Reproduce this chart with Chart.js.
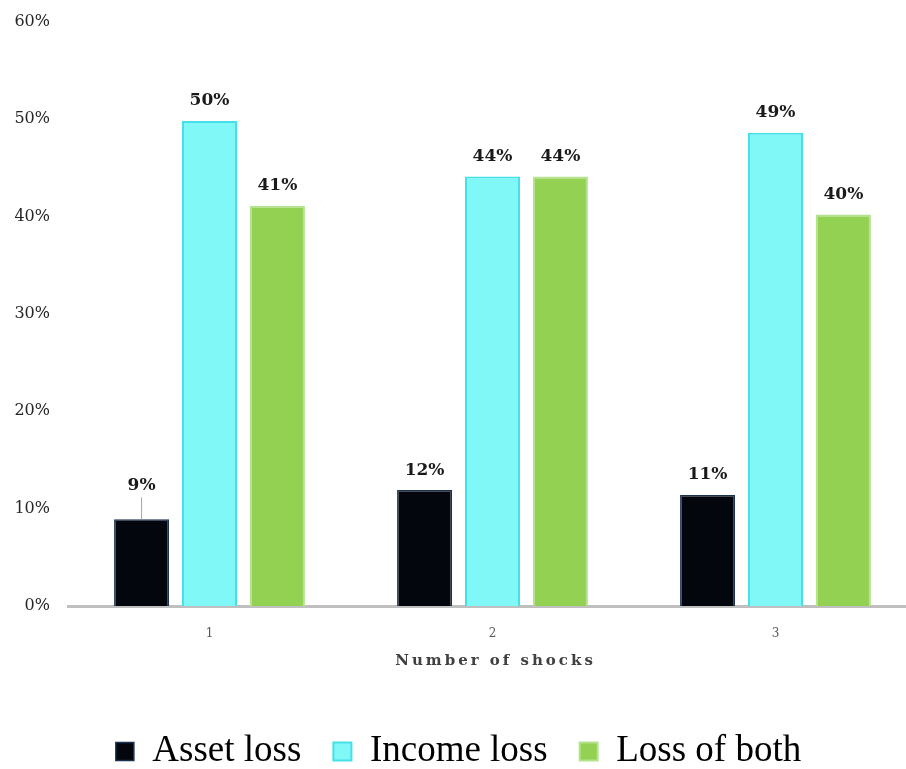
<!DOCTYPE html>
<html>
<head>
<meta charset="utf-8">
<title>Number of shocks</title>
<script src="https://cdn.jsdelivr.net/npm/chart.js@4.4.1/dist/chart.umd.min.js"></script>
<style>
  html, body { margin: 0; padding: 0; background: #fff; overflow: hidden; }
  #wrap { position: relative; width: 920px; height: 792px; margin-top: -6px; }
</style>
</head>
<body>
<div id="wrap"><canvas id="shocks-chart"></canvas></div>
<script>
/* ── Data ── */
const categories = ['1', '2', '3'];
const assetLoss = [8.9, 11.9, 11.4];
const incomeLoss = [49.8, 44.1, 48.6];
const lossOfBoth = [41.1, 44.1, 40.2];
const yTicks = [0, 10, 20, 30, 40, 50, 60];

const SERIF = "'DejaVu Serif', Georgia, serif";
const LEGEND_FONT = "'Liberation Serif', 'Times New Roman', serif";

/* ── Value labels above bars (the first dark bar gets a leader line) ── */
const valueLabels = {
    id: 'valueLabels',
    afterDatasetsDraw(chart) {
        const ctx = chart.ctx;
        ctx.save();
        ctx.font = `bold 17px ${SERIF}`;
        ctx.fillStyle = '#1a1a1a';
        ctx.textAlign = 'center';
        ctx.textBaseline = 'middle';
        chart.data.datasets.forEach((ds, di) => {
            chart.getDatasetMeta(di).data.forEach((bar, i) => {
                const txt = Math.round(ds.data[i]) + '%';
                const leader = di === 0 && i === 0;
                const y = bar.y - (leader ? 34 : 20);
                ctx.fillText(txt, bar.x, y);
                if (leader) {
                    ctx.strokeStyle = '#a6a6a6';
                    ctx.lineWidth = 1;
                    ctx.beginPath();
                    ctx.moveTo(bar.x, y + 12);
                    ctx.lineTo(bar.x, bar.y);
                    ctx.stroke();
                }
            });
        });
        ctx.restore();
    }
};

/* ── Spaced-out x axis title ── */
const axisTitle = {
    id: 'axisTitle',
    afterDraw(chart) {
        const ctx = chart.ctx;
        const area = chart.chartArea;
        ctx.save();
        ctx.font = `bold 15px ${SERIF}`;
        ctx.fillStyle = '#404040';
        ctx.textAlign = 'center';
        ctx.textBaseline = 'middle';
        ctx.letterSpacing = '3px';
        ctx.fillText('Number of shocks', (area.left + area.right) / 2 + 3, area.bottom + 55);
        ctx.restore();
    }
};

const ctx = document.getElementById('shocks-chart').getContext('2d');

new Chart(ctx, {
    type: 'bar',
    data: {
        labels: categories,
        datasets: [
            {
                label: 'Asset loss',
                data: assetLoss,
                backgroundColor: '#03070d',
                borderColor: '#1b3150',
                borderWidth: 1.5
            },
            {
                label: 'Income loss',
                data: incomeLoss,
                backgroundColor: '#80f8f8',
                borderColor: '#45e0e8',
                borderWidth: 2
            },
            {
                label: 'Loss of both',
                data: lossOfBoth,
                backgroundColor: '#93d152',
                borderColor: '#b4e28e',
                borderWidth: 2
            }
        ]
    },
    options: {
        responsive: true,
        maintainAspectRatio: false,
        animation: false,
        categoryPercentage: 0.72,
        barPercentage: 0.81,
        layout: { padding: { top: 1, right: 3, bottom: 6, left: 0 } },
        plugins: {
            tooltip: { enabled: false },
            legend: {
                position: 'bottom',
                labels: {
                    color: '#000',
                    font: { family: LEGEND_FONT, size: 37 },
                    boxWidth: 18,
                    boxHeight: 18,
                    padding: 32
                }
            }
        },
        scales: {
            x: {
                grid: { display: false, drawTicks: false },
                border: { display: true, color: '#bfbfbf', width: 3 },
                ticks: { color: '#595959', font: { family: SERIF, size: 12 }, padding: 21 },
                afterFit: s => { s.height = 95; }
            },
            y: {
                min: 0,
                max: 60,
                afterBuildTicks: s => { s.ticks = yTicks.map(v => ({ value: v })); },
                grid: { display: false, drawTicks: false },
                border: { display: false },
                ticks: {
                    color: '#262626',
                    font: { family: SERIF, size: 16 },
                    padding: 18,
                    callback: v => v + '%'
                },
                afterFit: s => { s.width = 68; }
            }
        }
    },
    plugins: [valueLabels, axisTitle]
});
</script>
</body>
</html>
